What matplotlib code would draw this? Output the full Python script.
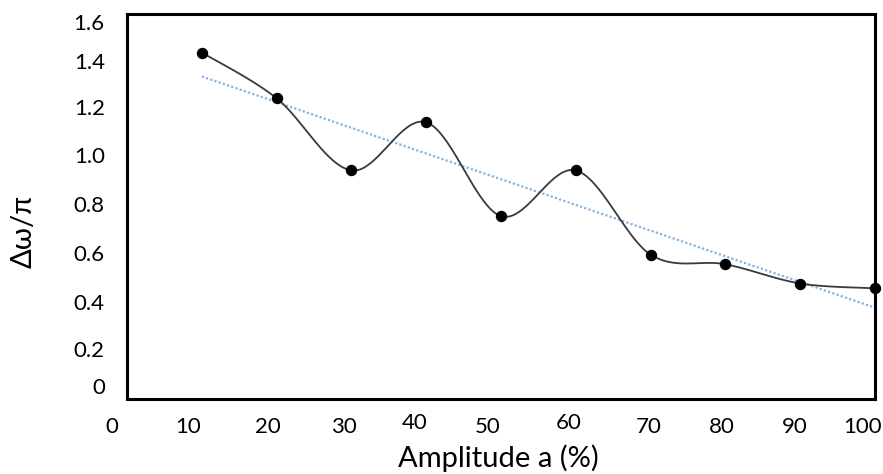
import numpy as np
import matplotlib
matplotlib.use("Agg")
import matplotlib.pyplot as plt
import matplotlib.transforms as mtransforms

plt.rcParams['font.family'] = ['Lato', 'DejaVu Sans']

# data
amplitude = [10, 20, 30, 40, 50, 60, 70, 80, 90, 100]
delta_w = [1.44, 1.25, 0.95, 1.15, 0.76, 0.95, 0.60, 0.56, 0.48, 0.46]
x_ticks = [0, 10, 20, 30, 40, 50, 60, 70, 80, 90, 100]
y_ticks = [0, 0.2, 0.4, 0.6, 0.8, 1.0, 1.2, 1.4, 1.6]
y_tick_labels = ['0', '0.2', '0.4', '0.6', '0.8', '1.0', '1.2', '1.4', '1.6']

# the labels in the original sit a bit off their ticks (pixels, dx / dy)
x_lab_dx = [-15, -14, -9, -8, -12, -13, -7, -2, -4, -5, -12]
x_lab_dy = [0, 0, 0, 0, 4, 0, 4, 0, 0, 0, 0]
y_lab_dy = [13, 2, 1, 2, 3, 3, 3, 1, -8]


def smooth_curve(xs, ys, sx, sy, n=40):
    # catmull-rom style bezier, done in screen-like units (like excel smoothing)
    p = np.column_stack([np.asarray(xs) * sx, np.asarray(ys) * sy])
    pts = []
    for i in range(len(p) - 1):
        p0 = p[i - 1] if i > 0 else p[i]
        p1 = p[i]
        p2 = p[i + 1]
        p3 = p[i + 2] if i + 2 < len(p) else p[i + 1]
        c1 = p1 + (p2 - p0) / 6.0
        c2 = p2 - (p3 - p1) / 6.0
        t = np.linspace(0, 1, n)[:, None]
        seg = ((1 - t) ** 3) * p1 + 3 * ((1 - t) ** 2) * t * c1 + 3 * (1 - t) * t ** 2 * c2 + t ** 3 * p2
        pts.append(seg if i == 0 else seg[1:])
    pts = np.vstack(pts)
    return pts[:, 0] / sx, pts[:, 1] / sy


fig = plt.figure(figsize=(8.83, 4.74), dpi=100)
ax = fig.add_axes([127 / 883, 75 / 474, 748 / 883, 385 / 474])

ax.set_xlim(0, 100)
ax.set_ylim(0, 1.6)

# trendline (linear fit)
k, b = np.polyfit(amplitude, delta_w, 1)
xt = np.array([amplitude[0], amplitude[-1]])
ax.plot(xt, k * xt + b, color='#85b3e3', linestyle=(0, (1, 1)), linewidth=1.6, zorder=2)

# smoothed line
sx = 748 / 100.0
sy = 385 / 1.6
cx, cy = smooth_curve(amplitude, delta_w, sx, sy)
ax.plot(cx, cy, color='#3a3a3a', linewidth=1.3, zorder=3)
ax.plot(amplitude, delta_w, 'o', color='black', markersize=7.2, zorder=4, clip_on=False)

for s in ax.spines.values():
    s.set_linewidth(2.2)
    s.set_color('black')

ax.set_xticks(x_ticks)
ax.set_yticks(y_ticks)
ax.set_yticklabels(y_tick_labels)
ax.tick_params(axis='both', length=0, labelsize=16)
ax.tick_params(axis='x', pad=13)
ax.tick_params(axis='y', pad=16)

px = fig.dpi_scale_trans
for lab, dx, dy in zip(ax.get_xticklabels(), x_lab_dx, x_lab_dy):
    lab.set_transform(lab.get_transform() + mtransforms.ScaledTranslation(dx / 100, dy / 100, px))
for lab, dy in zip(ax.get_yticklabels(), y_lab_dy):
    lab.set_transform(lab.get_transform() + mtransforms.ScaledTranslation(0, dy / 100, px))

# axis titles
fig.text(498 / 883, 16 / 474, 'Amplitude a (%)', fontsize=21, ha='center', va='center')
fig.text(24 / 883, 242 / 474, 'Δω/π', fontsize=21, rotation=90, ha='center', va='center')

fig.savefig('out.png', dpi=100)
